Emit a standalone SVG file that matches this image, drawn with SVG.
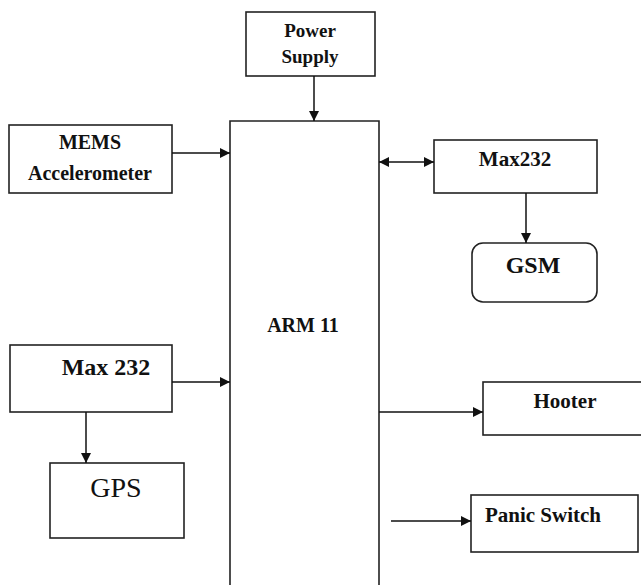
<svg xmlns="http://www.w3.org/2000/svg" width="641" height="585" viewBox="0 0 641 585">
<defs>
<style>
.box{fill:#fff;stroke:#222;stroke-width:1.6}
.t{font-family:'Liberation Serif','DejaVu Serif',serif;font-weight:bold;fill:#111;text-anchor:middle}
.tn{font-family:'Liberation Serif','DejaVu Serif',serif;fill:#111;text-anchor:middle}
.c{stroke:#111;stroke-width:1.5;fill:none}
</style>
<marker id="ah" viewBox="0 0 10 10" refX="10" refY="5" markerWidth="10" markerHeight="10" markerUnits="userSpaceOnUse" orient="auto-start-reverse">
<path d="M0,0 L10,5 L0,10 z" fill="#111"/>
</marker>
</defs>
<rect width="641" height="585" fill="#fff"/>
<g id="arm11">
<path class="box" d="M230,590 L230,121 L379,121 L379,590"/>
<text class="t" font-family="Liberation Serif, serif" x="303" y="332" font-size="20">ARM 11</text>
</g>
<g id="power">
<rect class="box" x="246" y="12" width="129" height="64"/>
<text class="t" font-family="Liberation Serif, serif" x="310" y="37" font-size="19">Power</text>
<text class="t" font-family="Liberation Serif, serif" x="310" y="63" font-size="19">Supply</text>
</g>
<g id="mems">
<rect class="box" x="9" y="125" width="163" height="68"/>
<text class="t" font-family="Liberation Serif, serif" x="90" y="149" font-size="20">MEMS</text>
<text class="t" font-family="Liberation Serif, serif" x="90" y="180" font-size="20">Accelerometer</text>
</g>
<g id="max232r">
<rect class="box" x="434" y="140" width="163" height="53"/>
<text class="t" font-family="Liberation Serif, serif" x="515" y="166" font-size="21">Max232</text>
</g>
<g id="gsm">
<rect class="box" x="472" y="243" width="125" height="59" rx="11"/>
<text class="t" font-family="Liberation Serif, serif" x="533" y="273" font-size="24">GSM</text>
</g>
<g id="max232l">
<rect class="box" x="10" y="345" width="162" height="67"/>
<text class="t" font-family="Liberation Serif, serif" x="106" y="375" font-size="24">Max 232</text>
</g>
<g id="gps">
<rect class="box" x="50" y="463" width="134" height="75"/>
<text class="tn" font-family="Liberation Serif, serif" x="116" y="497" font-size="28">GPS</text>
</g>
<g id="hooter">
<rect class="box" x="483" y="382" width="170" height="53"/>
<text class="t" font-family="Liberation Serif, serif" x="565" y="408" font-size="21">Hooter</text>
</g>
<g id="panic">
<rect class="box" x="471" y="495" width="167" height="57"/>
<text class="t" font-family="Liberation Serif, serif" x="543" y="522" font-size="21">Panic Switch</text>
</g>
<g id="connectors">
<line class="c" x1="314" y1="76" x2="314" y2="121" marker-end="url(#ah)"/>
<line class="c" x1="172" y1="153" x2="230" y2="153" marker-end="url(#ah)"/>
<line class="c" x1="379" y1="162" x2="434" y2="162" marker-start="url(#ah)" marker-end="url(#ah)"/>
<line class="c" x1="526" y1="193" x2="526" y2="243" marker-end="url(#ah)"/>
<line class="c" x1="172" y1="382" x2="230" y2="382" marker-end="url(#ah)"/>
<line class="c" x1="86" y1="412" x2="86" y2="463" marker-end="url(#ah)"/>
<line class="c" x1="379" y1="412" x2="483" y2="412" marker-end="url(#ah)"/>
<line class="c" x1="391" y1="521" x2="471" y2="521" marker-end="url(#ah)"/>
</g>
</svg>
